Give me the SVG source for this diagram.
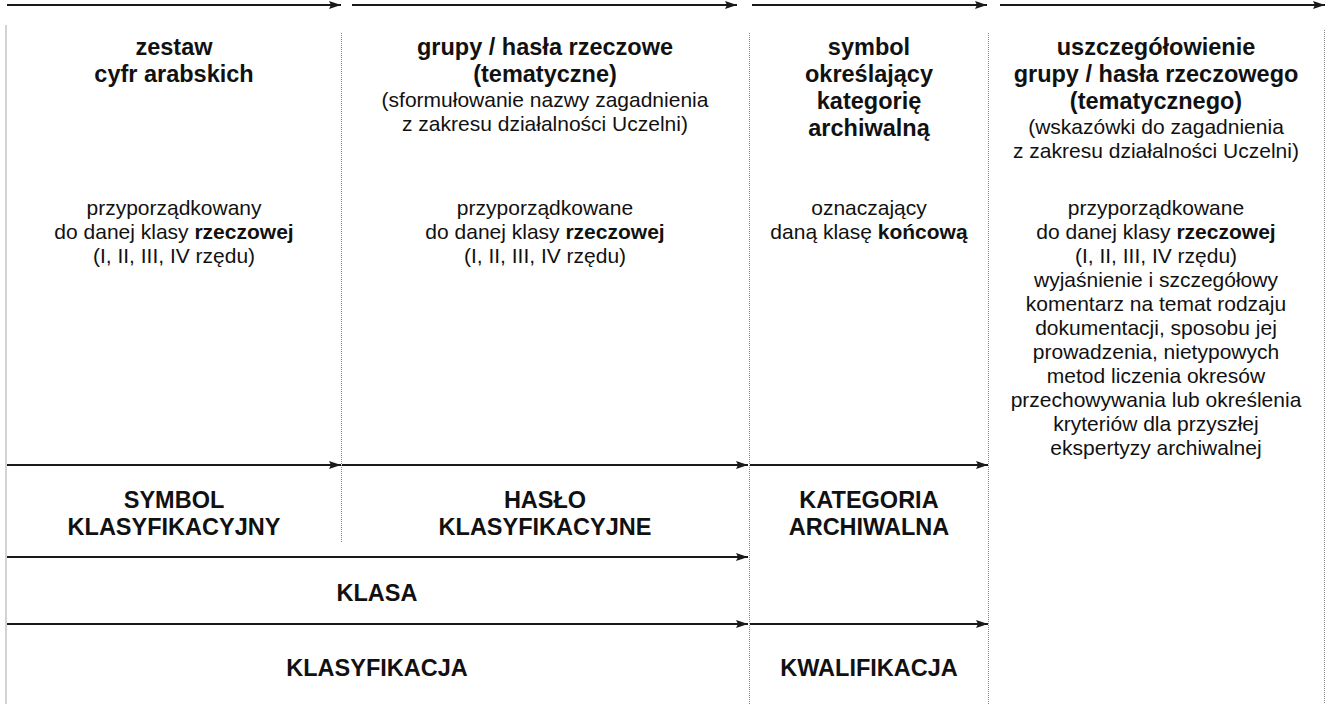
<svg xmlns="http://www.w3.org/2000/svg" width="1333" height="704" viewBox="0 0 1333 704">
<defs>
<marker id="ah" viewBox="0 0 12 8" refX="12" refY="4" markerWidth="12" markerHeight="8" markerUnits="userSpaceOnUse" orient="auto">
<path d="M0,0 L12,4 L0,8 L2,4 Z" fill="#1a1a1a"/>
</marker>
<style>
text{font-family:"Liberation Sans",Arial,sans-serif;fill:#111;text-anchor:middle}
.b{font-weight:bold;font-size:23.5px}
.r{font-size:21px}
.bt{font-weight:bold}
.arr{stroke:#1a1a1a;stroke-width:2;fill:none;marker-end:url(#ah)}
.dot{stroke:#888;stroke-width:1;stroke-dasharray:1 1;fill:none}
.edge{stroke:#c4c4c4;stroke-width:1.5;fill:none}
</style>
</defs>
<rect width="1333" height="704" fill="#fff"/>
<g id="grid">
<line class="edge" x1="6" y1="25" x2="6" y2="704"/>
<line class="dot" x1="341.5" y1="33" x2="341.5" y2="542"/>
<line class="dot" x1="749.5" y1="33" x2="749.5" y2="704"/>
<line class="dot" x1="988.5" y1="33" x2="988.5" y2="704"/>
<line class="dot" x1="1324.5" y1="30" x2="1324.5" y2="704"/>
</g>
<g id="connectors">
<line class="arr" x1="7" y1="5" x2="341" y2="5"/>
<line class="arr" x1="352" y1="5" x2="737" y2="5"/>
<line class="arr" x1="752" y1="5" x2="987" y2="5"/>
<line class="arr" x1="1000" y1="5" x2="1325" y2="5"/>
<line class="arr" x1="7" y1="465" x2="341" y2="465"/>
<line class="arr" x1="342" y1="465" x2="748" y2="465"/>
<line class="arr" x1="750" y1="465" x2="988" y2="465"/>
<line class="arr" x1="7" y1="557" x2="748" y2="557"/>
<line class="arr" x1="7" y1="624" x2="748" y2="624"/>
<line class="arr" x1="750" y1="624" x2="988" y2="624"/>
</g>
<g id="col1">
<text class="b" x="174" y="55">zestaw</text>
<text class="b" x="174" y="82">cyfr arabskich</text>
<text class="r" x="174" y="215">przyporządkowany</text>
<text class="r" x="174" y="239">do danej klasy <tspan class="bt">rzeczowej</tspan></text>
<text class="r" x="174" y="263">(I, II, III, IV rzędu)</text>
</g>
<g id="col2">
<text class="b" x="545" y="55">grupy / hasła rzeczowe</text>
<text class="b" x="545" y="82">(tematyczne)</text>
<text class="r" x="545" y="107">(sformułowanie nazwy zagadnienia</text>
<text class="r" x="545" y="131">z zakresu działalności Uczelni)</text>
<text class="r" x="545" y="215">przyporządkowane</text>
<text class="r" x="545" y="239">do danej klasy <tspan class="bt">rzeczowej</tspan></text>
<text class="r" x="545" y="263">(I, II, III, IV rzędu)</text>
</g>
<g id="col3">
<text class="b" x="869" y="55">symbol</text>
<text class="b" x="869" y="82">określający</text>
<text class="b" x="869" y="109">kategorię</text>
<text class="b" x="869" y="136">archiwalną</text>
<text class="r" x="869" y="215">oznaczający</text>
<text class="r" x="869" y="239">daną klasę <tspan class="bt">końcową</tspan></text>
</g>
<g id="col4">
<text class="b" x="1156" y="55">uszczegółowienie</text>
<text class="b" x="1156" y="82">grupy / hasła rzeczowego</text>
<text class="b" x="1156" y="109">(tematycznego)</text>
<text class="r" x="1156" y="134">(wskazówki do zagadnienia</text>
<text class="r" x="1156" y="158">z zakresu działalności Uczelni)</text>
<text class="r" x="1156" y="215">przyporządkowane</text>
<text class="r" x="1156" y="239">do danej klasy <tspan class="bt">rzeczowej</tspan></text>
<text class="r" x="1156" y="263">(I, II, III, IV rzędu)</text>
<text class="r" x="1156" y="287">wyjaśnienie i szczegółowy</text>
<text class="r" x="1156" y="311">komentarz na temat rodzaju</text>
<text class="r" x="1156" y="335">dokumentacji, sposobu jej</text>
<text class="r" x="1156" y="359">prowadzenia, nietypowych</text>
<text class="r" x="1156" y="383">metod liczenia okresów</text>
<text class="r" x="1156" y="407">przechowywania lub określenia</text>
<text class="r" x="1156" y="431">kryteriów dla przyszłej</text>
<text class="r" x="1156" y="455">ekspertyzy archiwalnej</text>
</g>
<g id="symbol-klasyfikacyjny">
<text class="b" x="174" y="508">SYMBOL</text>
<text class="b" x="174" y="535">KLASYFIKACYJNY</text>
</g>
<g id="haslo-klasyfikacyjne">
<text class="b" x="545" y="508">HASŁO</text>
<text class="b" x="545" y="535">KLASYFIKACYJNE</text>
</g>
<g id="kategoria-archiwalna">
<text class="b" x="869" y="508">KATEGORIA</text>
<text class="b" x="869" y="535">ARCHIWALNA</text>
</g>
<g id="klasa">
<text class="b" x="377" y="601">KLASA</text>
</g>
<g id="klasyfikacja">
<text class="b" x="377" y="676">KLASYFIKACJA</text>
</g>
<g id="kwalifikacja">
<text class="b" x="869" y="676">KWALIFIKACJA</text>
</g>
</svg>
